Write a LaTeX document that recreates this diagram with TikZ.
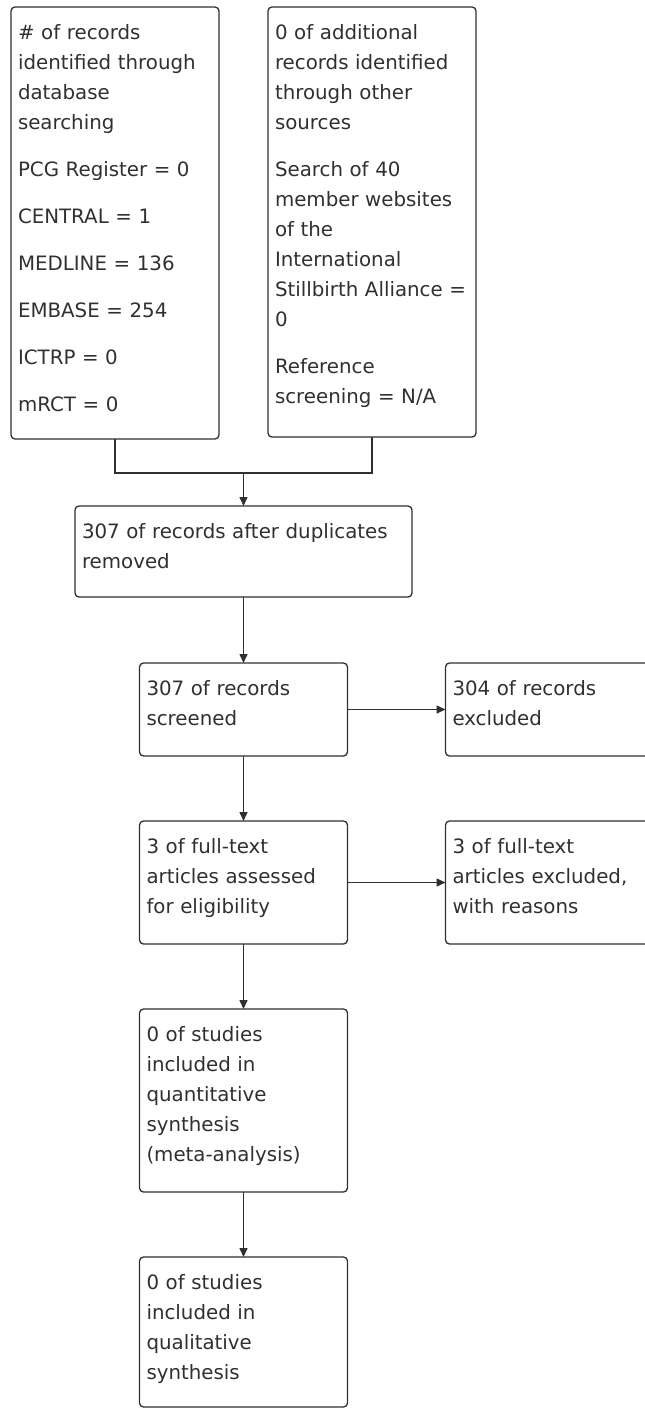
\documentclass[tikz,border=0pt]{standalone}
\usepackage{fontspec}
\setmainfont{DejaVu Sans}
\usepackage{xcolor}
\usepackage{tikz}
\usetikzlibrary{arrows.meta, positioning, calc}

\definecolor{ink}{HTML}{303030}

\begin{document}
\begin{tikzpicture}[
    x=1pt, y=-1pt,
    stage/.style={draw=ink, text=ink, line width=1.3pt, rounded corners=4pt, align=left,
        font=\fontsize{19.8pt}{30pt}\selectfont, inner xsep=7pt, inner ysep=0pt, outer sep=0pt,
        text height=32pt},
    link/.style={draw=ink, line width=1.5pt},
    flow/.style={link, -{Triangle[length=9pt, width=8pt]}}
]
\useasboundingbox (0,0) rectangle (645,1408);
\clip (0,0) rectangle (645,1408);

\node[stage, anchor=north west, text width=194pt, text depth=400pt] (dbs) at (11,7)
    {\# of records\\identified through\\database\\searching\\[17pt]PCG Register = 0\\[17pt]CENTRAL = 1\\[17pt]MEDLINE = 136\\[17pt]EMBASE = 254\\[17pt]ICTRP = 0\\[17pt]mRCT = 0};
\node[stage, right=49pt of dbs.north east, anchor=north west, text width=194pt, text depth=398pt] (other)
    {0 of additional\\records identified\\through other\\sources\\[17pt]Search of 40\\member websites\\of the\\International\\Stillbirth Alliance =\\0\\[17pt]Reference\\screening = N/A};
\node[stage, anchor=north, text width=323pt, text depth=59pt] (dedup) at (243.5,506)
    {307 of records after duplicates\\removed};
\node[stage, below=66pt of dedup, text width=194pt, text depth=61pt] (screen)
    {307 of records\\screened};
\node[stage, right=98pt of screen, text width=194pt, text depth=61pt] (excl)
    {304 of records\\excluded};
\node[stage, below=65pt of screen, text width=194pt, text depth=91pt] (elig)
    {3 of full-text\\articles assessed\\for eligibility};
\node[stage, right=98pt of elig, text width=194pt, text depth=91pt] (ftexcl)
    {3 of full-text\\articles excluded,\\with reasons};
\node[stage, below=65pt of elig, text width=194pt, text depth=151pt] (quant)
    {0 of studies\\included in\\quantitative\\synthesis\\(meta-analysis)};
\node[stage, below=65pt of quant, text width=194pt, text depth=118pt] (qual)
    {0 of studies\\included in\\qualitative\\synthesis};

% merge the two sources
\coordinate (merge) at ([yshift=33pt]dedup.north);
\draw[link] (dbs.south) |- (merge) -| (other.south);
\draw[flow] (merge) -- (dedup);

\draw[flow] (dedup) -- (screen);
\draw[flow] (screen) -- (excl);
\draw[flow] (screen) -- (elig);
\draw[flow] (elig) -- (ftexcl);
\draw[flow] (elig) -- (quant);
\draw[flow] (quant) -- (qual);
\end{tikzpicture}
\end{document}
